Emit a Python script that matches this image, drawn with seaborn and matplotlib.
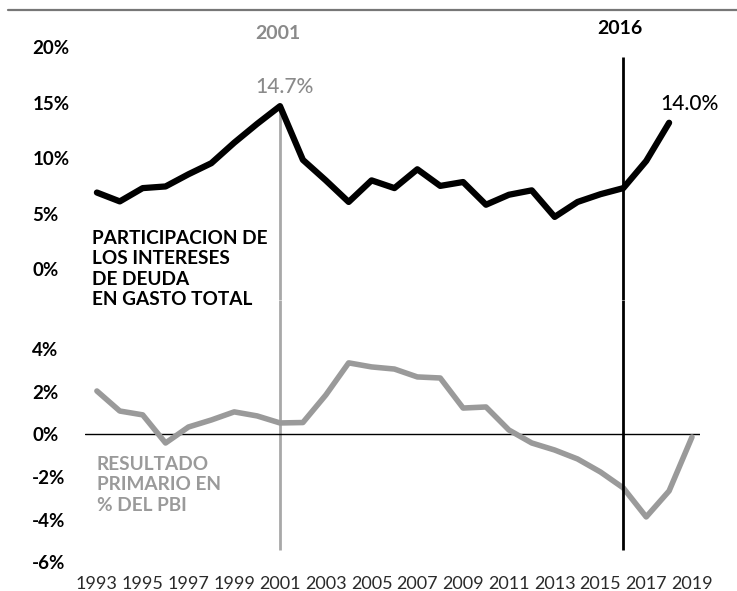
import seaborn as sns
import matplotlib.pyplot as plt
import pandas as pd
from matplotlib.lines import Line2D

# Data
years_int = list(range(1993, 2019))
interest_share = [6.9, 6.1, 7.3, 7.45, 8.55, 9.55, 11.4, 13.1, 14.7, 9.85,
                  8.0, 6.05, 8.0, 7.3, 9.0, 7.5, 7.85, 5.8, 6.7, 7.1,
                  4.7, 6.05, 6.75, 7.3, 9.75, 13.2]

years_res = list(range(1993, 2020))
primary_result = [2.04, 1.1, 0.92, -0.4, 0.35, 0.68, 1.06, 0.87, 0.54, 0.56,
                  1.85, 3.36, 3.17, 3.07, 2.7, 2.65, 1.24, 1.29, 0.21, -0.4,
                  -0.73, -1.15, -1.76, -2.51, -3.87, -2.65, -0.12]

top_ticks = [0, 5, 10, 15, 20]
bot_ticks = [-6, -4, -2, 0, 2, 4]
x_ticks = list(range(1993, 2020, 2))

df_top = pd.DataFrame({"year": years_int, "share": interest_share})
df_bot = pd.DataFrame({"year": years_res, "result": primary_result})

sns.set_style("white")
plt.rcParams["font.family"] = ["Lato", "DejaVu Sans"]

W, H = 737, 591
fig = plt.figure(figsize=(W / 100, H / 100), dpi=100)
ax_top = fig.add_axes([85 / W, (H - 300) / H, 615 / W, 260 / H])
ax_bot = fig.add_axes([85 / W, (H - 570) / H, 615 / W, 270 / H])

xlim = (1992.48, 2019.35)
top_lim = (-2.8, 20.67)
bot_lim = (-6.36, 6.31)

# vertical reference lines
ax_top.vlines(2001, top_lim[0], 14.7, color="#a8a8a8", lw=2, zorder=1)
ax_bot.vlines(2001, -5.42, bot_lim[1], color="#a8a8a8", lw=2, zorder=1)

sns.lineplot(data=df_top, x="year", y="share", ax=ax_top, color="black",
             lw=4.5, zorder=3)
sns.lineplot(data=df_bot, x="year", y="result", ax=ax_bot, color="#9a9a9a",
             lw=4, zorder=3)
ax_bot.axhline(0, xmin=0, xmax=1, color="black", lw=1, zorder=2)

ax_top.vlines(2016, top_lim[0], 19.13, color="black", lw=2, zorder=4)
ax_bot.vlines(2016, -5.42, bot_lim[1], color="black", lw=2, zorder=4)

ax_top.set_ylim(*top_lim)
ax_bot.set_ylim(*bot_lim)
for ax in (ax_top, ax_bot):
    ax.set_xlim(*xlim)
    ax.set_xlabel("")
    ax.set_ylabel("")
    ax.patch.set_alpha(0)
    for s in ax.spines.values():
        s.set_visible(False)

# ticks
ax_top.set_yticks(top_ticks)
ax_top.set_yticklabels([f"{t}%" for t in top_ticks])
ax_bot.set_yticks(bot_ticks)
ax_bot.set_yticklabels([f"{t}%" for t in bot_ticks])
ax_top.set_xticks([])
ax_bot.set_xticks(x_ticks)
ax_bot.set_xticklabels([str(x) for x in x_ticks])
for ax in (ax_top, ax_bot):
    ax.tick_params(axis="y", length=0, pad=38, labelsize=13.5, labelcolor="black")
    for lbl in ax.get_yticklabels():
        lbl.set_horizontalalignment("left")
        lbl.set_fontweight("bold")
ax_bot.tick_params(axis="x", length=0, pad=4, labelsize=13, labelcolor="#2a2a2a")

# annotations
ax_top.text(2000.9, 21.3, "2001", ha="center", va="center", fontsize=14,
            fontweight="bold", color="#8a8a8a")
ax_top.text(2001.2, 16.43, "14.7%", ha="center", va="center", fontsize=15,
            fontweight="medium", color="#8a8a8a")
ax_top.text(2015.86, 21.75, "2016", ha="center", va="center", fontsize=14,
            fontweight="bold", color="black")
ax_top.text(2018.9, 14.9, "14.0%", ha="center", va="center", fontsize=15,
            fontweight="medium", color="black")
ax_top.text(1992.78, 0.0, "PARTICIPACION DE\nLOS INTERESES\nDE DEUDA\nEN GASTO TOTAL",
            ha="left", va="center", fontsize=13.7, fontweight="bold",
            color="black", linespacing=1.22)
ax_bot.text(1993.0, -2.37, "RESULTADO\nPRIMARIO EN\n% DEL PBI",
            ha="left", va="center", fontsize=13.7, fontweight="bold",
            color="#9a9a9a", linespacing=1.22)

# top rule
fig.add_artist(Line2D([8 / W, 1], [1 - 10 / H, 1 - 10 / H], color="#777777", lw=1.6))

fig.savefig("out.png", dpi=100)
